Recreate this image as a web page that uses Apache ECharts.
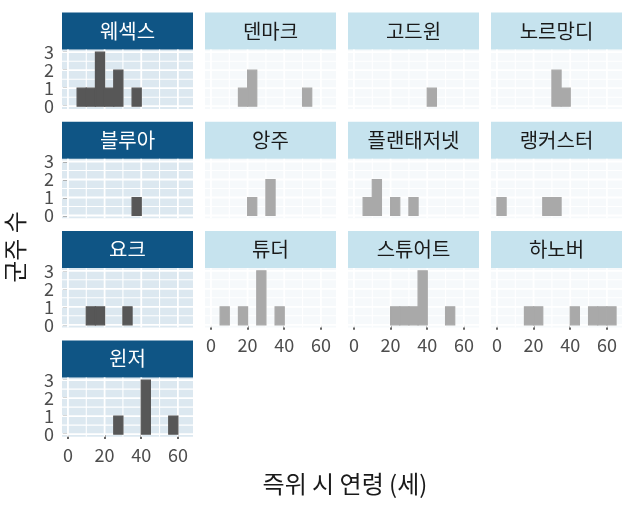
<!DOCTYPE html>
<html>
<head>
<meta charset="utf-8">
<script src="https://cdn.jsdelivr.net/npm/echarts@6/dist/echarts.min.js"></script>
<style>
  html, body { margin: 0; padding: 0; background: #fff; }
  #main { width: 633px; height: 507px; }
</style>
</head>
<body>
<div id="main"></div>
<script>
var myChart = echarts.init(document.getElementById('main'));

// 왕가 (패널 순서)
var houses = ['웨섹스', '덴마크', '고드윈', '노르망디',
              '블루아', '앙주', '플랜태저넷', '랭커스터',
              '요크', '튜더', '스튜어트', '하노버',
              '윈저'];

// 구간 시작 (구간 폭 5세)
var binStarts = [0, 5, 10, 15, 20, 25, 30, 35, 40, 45, 50, 55, 60];
var binWidth = 5;

// 구간별 군주 수
var counts = [
    [0, 1, 1, 3, 1, 2, 0, 1, 0, 0, 0, 0, 0],   // 웨섹스
    [0, 0, 0, 1, 2, 0, 0, 0, 0, 0, 1, 0, 0],   // 덴마크
    [0, 0, 0, 0, 0, 0, 0, 0, 1, 0, 0, 0, 0],   // 고드윈
    [0, 0, 0, 0, 0, 0, 2, 1, 0, 0, 0, 0, 0],   // 노르망디
    [0, 0, 0, 0, 0, 0, 0, 1, 0, 0, 0, 0, 0],   // 블루아
    [0, 0, 0, 0, 1, 0, 2, 0, 0, 0, 0, 0, 0],   // 앙주
    [0, 1, 2, 0, 1, 0, 1, 0, 0, 0, 0, 0, 0],   // 플랜태저넷
    [1, 0, 0, 0, 0, 1, 1, 0, 0, 0, 0, 0, 0],   // 랭커스터
    [0, 0, 1, 1, 0, 0, 1, 0, 0, 0, 0, 0, 0],   // 요크
    [0, 1, 0, 1, 0, 3, 0, 1, 0, 0, 0, 0, 0],   // 튜더
    [0, 0, 0, 0, 1, 1, 1, 3, 0, 0, 1, 0, 0],   // 스튜어트
    [0, 0, 0, 1, 1, 0, 0, 0, 1, 0, 1, 1, 1],   // 하노버
    [0, 0, 0, 0, 0, 1, 0, 0, 3, 0, 0, 1, 0]    // 윈저
];

var xTicks = [0, 20, 40, 60];
var yTicks = [0, 1, 2, 3];
var xGridVals = [0, 10, 20, 30, 40, 50, 60];
var yGridVals = [0, 0.5, 1, 1.5, 2, 2.5, 3];

var FONT = 'Noto Sans CJK KR';
var colLeft = [62, 205, 348, 491];
var rowTop = [49.5, 158.8, 268.1, 377.4];
var panelW = 131, panelH = 59.4, stripH = 37;

var grids = [], xAxes = [], yAxes = [], series = [], graphics = [];

houses.forEach(function (name, i) {
    var row = i < 12 ? Math.floor(i / 4) : 3;
    var col = i < 12 ? i % 4 : 0;
    var hi = col === 0;
    var showX = (col === 0 && row === 3) || (col > 0 && row === 2);
    var showY = col === 0;

    grids.push({
        left: colLeft[col], top: rowTop[row], width: panelW, height: panelH,
        show: true, backgroundColor: hi ? '#DCE8F0' : '#F6F9FB', borderWidth: 0
    });
    xAxes.push({
        gridIndex: i, type: 'value', min: -3.25, max: 68.25,
        axisLine: { show: false }, splitLine: { show: false },
        axisTick: { show: showX, customValues: xTicks, length: 5,
                    lineStyle: { color: '#333', width: 1.5 } },
        axisLabel: { show: showX, customValues: xTicks, margin: 9,
                     showMinLabel: true, showMaxLabel: true, hideOverlap: false,
                     fontSize: 18, color: '#4D4D4D', fontFamily: FONT }
    });
    yAxes.push({
        gridIndex: i, type: 'value', min: -0.15, max: 3.15,
        axisLine: { show: false }, splitLine: { show: false },
        axisTick: { show: showY, customValues: yTicks, length: 5,
                    lineStyle: { color: '#333', width: 1.5 } },
        axisLabel: { show: showY, customValues: yTicks, margin: 8,
                     showMinLabel: true, showMaxLabel: true, hideOverlap: false,
                     fontSize: 18, color: '#4D4D4D', fontFamily: FONT }
    });

    // 배경 격자선
    var lineData = xGridVals.map(function (v) { return [0, v]; })
        .concat(yGridVals.map(function (v) { return [1, v]; }));
    series.push({
        type: 'custom', xAxisIndex: i, yAxisIndex: i, z: 1, silent: true,
        data: lineData,
        renderItem: function (params, api) {
            var cs = params.coordSys;
            var dir = api.value(0), v = api.value(1);
            var major = dir === 0 ? (v % 20 === 0) : (v % 1 === 0);
            var shape;
            if (dir === 0) {
                var px = api.coord([v, 0])[0];
                shape = { x1: px, y1: cs.y, x2: px, y2: cs.y + cs.height };
            } else {
                var py = api.coord([0, v])[1];
                shape = { x1: cs.x, y1: py, x2: cs.x + cs.width, y2: py };
            }
            return { type: 'line', shape: shape,
                     style: { stroke: '#FFFFFF', lineWidth: major ? 1.8 : 1.1 } };
        }
    });

    // 히스토그램 막대
    var barData = [];
    counts[i].forEach(function (c, k) {
        if (c > 0) barData.push([binStarts[k], binStarts[k] + binWidth, c]);
    });
    var fill = hi ? '#575757' : '#A9A9A9';
    series.push({
        type: 'custom', xAxisIndex: i, yAxisIndex: i, z: 2,
        data: barData,
        renderItem: function (params, api) {
            var p0 = api.coord([api.value(0), 0]);
            var p1 = api.coord([api.value(1), api.value(2)]);
            return { type: 'rect',
                     shape: { x: p0[0], y: p1[1], width: p1[0] - p0[0], height: p0[1] - p1[1] },
                     style: { fill: fill, stroke: fill, lineWidth: 1.2 } };
        }
    });

    // 패널 제목 띠
    graphics.push({
        type: 'rect', left: colLeft[col], top: rowTop[row] - stripH,
        shape: { width: panelW, height: stripH },
        style: { fill: hi ? '#0F5585' : '#C6E3EE' }
    });
    graphics.push({
        type: 'text', x: colLeft[col] + panelW / 2, y: rowTop[row] - stripH / 2,
        style: { text: name, fill: hi ? '#FFFFFF' : '#1A1A1A', font: '20px "' + FONT + '"',
                 textAlign: 'center', textVerticalAlign: 'middle' }
    });
});

graphics.push({
    type: 'text', x: 345, y: 484,
    style: { text: '즉위 시 연령 (세)', fill: '#1A1A1A', font: '24px "' + FONT + '"',
             textAlign: 'center', textVerticalAlign: 'middle' }
});
graphics.push({
    type: 'text', x: 15, y: 247, rotation: Math.PI / 2,
    style: { text: '군주 수', fill: '#1A1A1A', font: '24px "' + FONT + '"',
             textAlign: 'center', textVerticalAlign: 'middle' }
});

option = {
    backgroundColor: '#FFFFFF',
    animation: false,
    grid: grids,
    xAxis: xAxes,
    yAxis: yAxes,
    series: series,
    graphic: graphics
};

myChart.setOption(option);
</script>
</body>
</html>
